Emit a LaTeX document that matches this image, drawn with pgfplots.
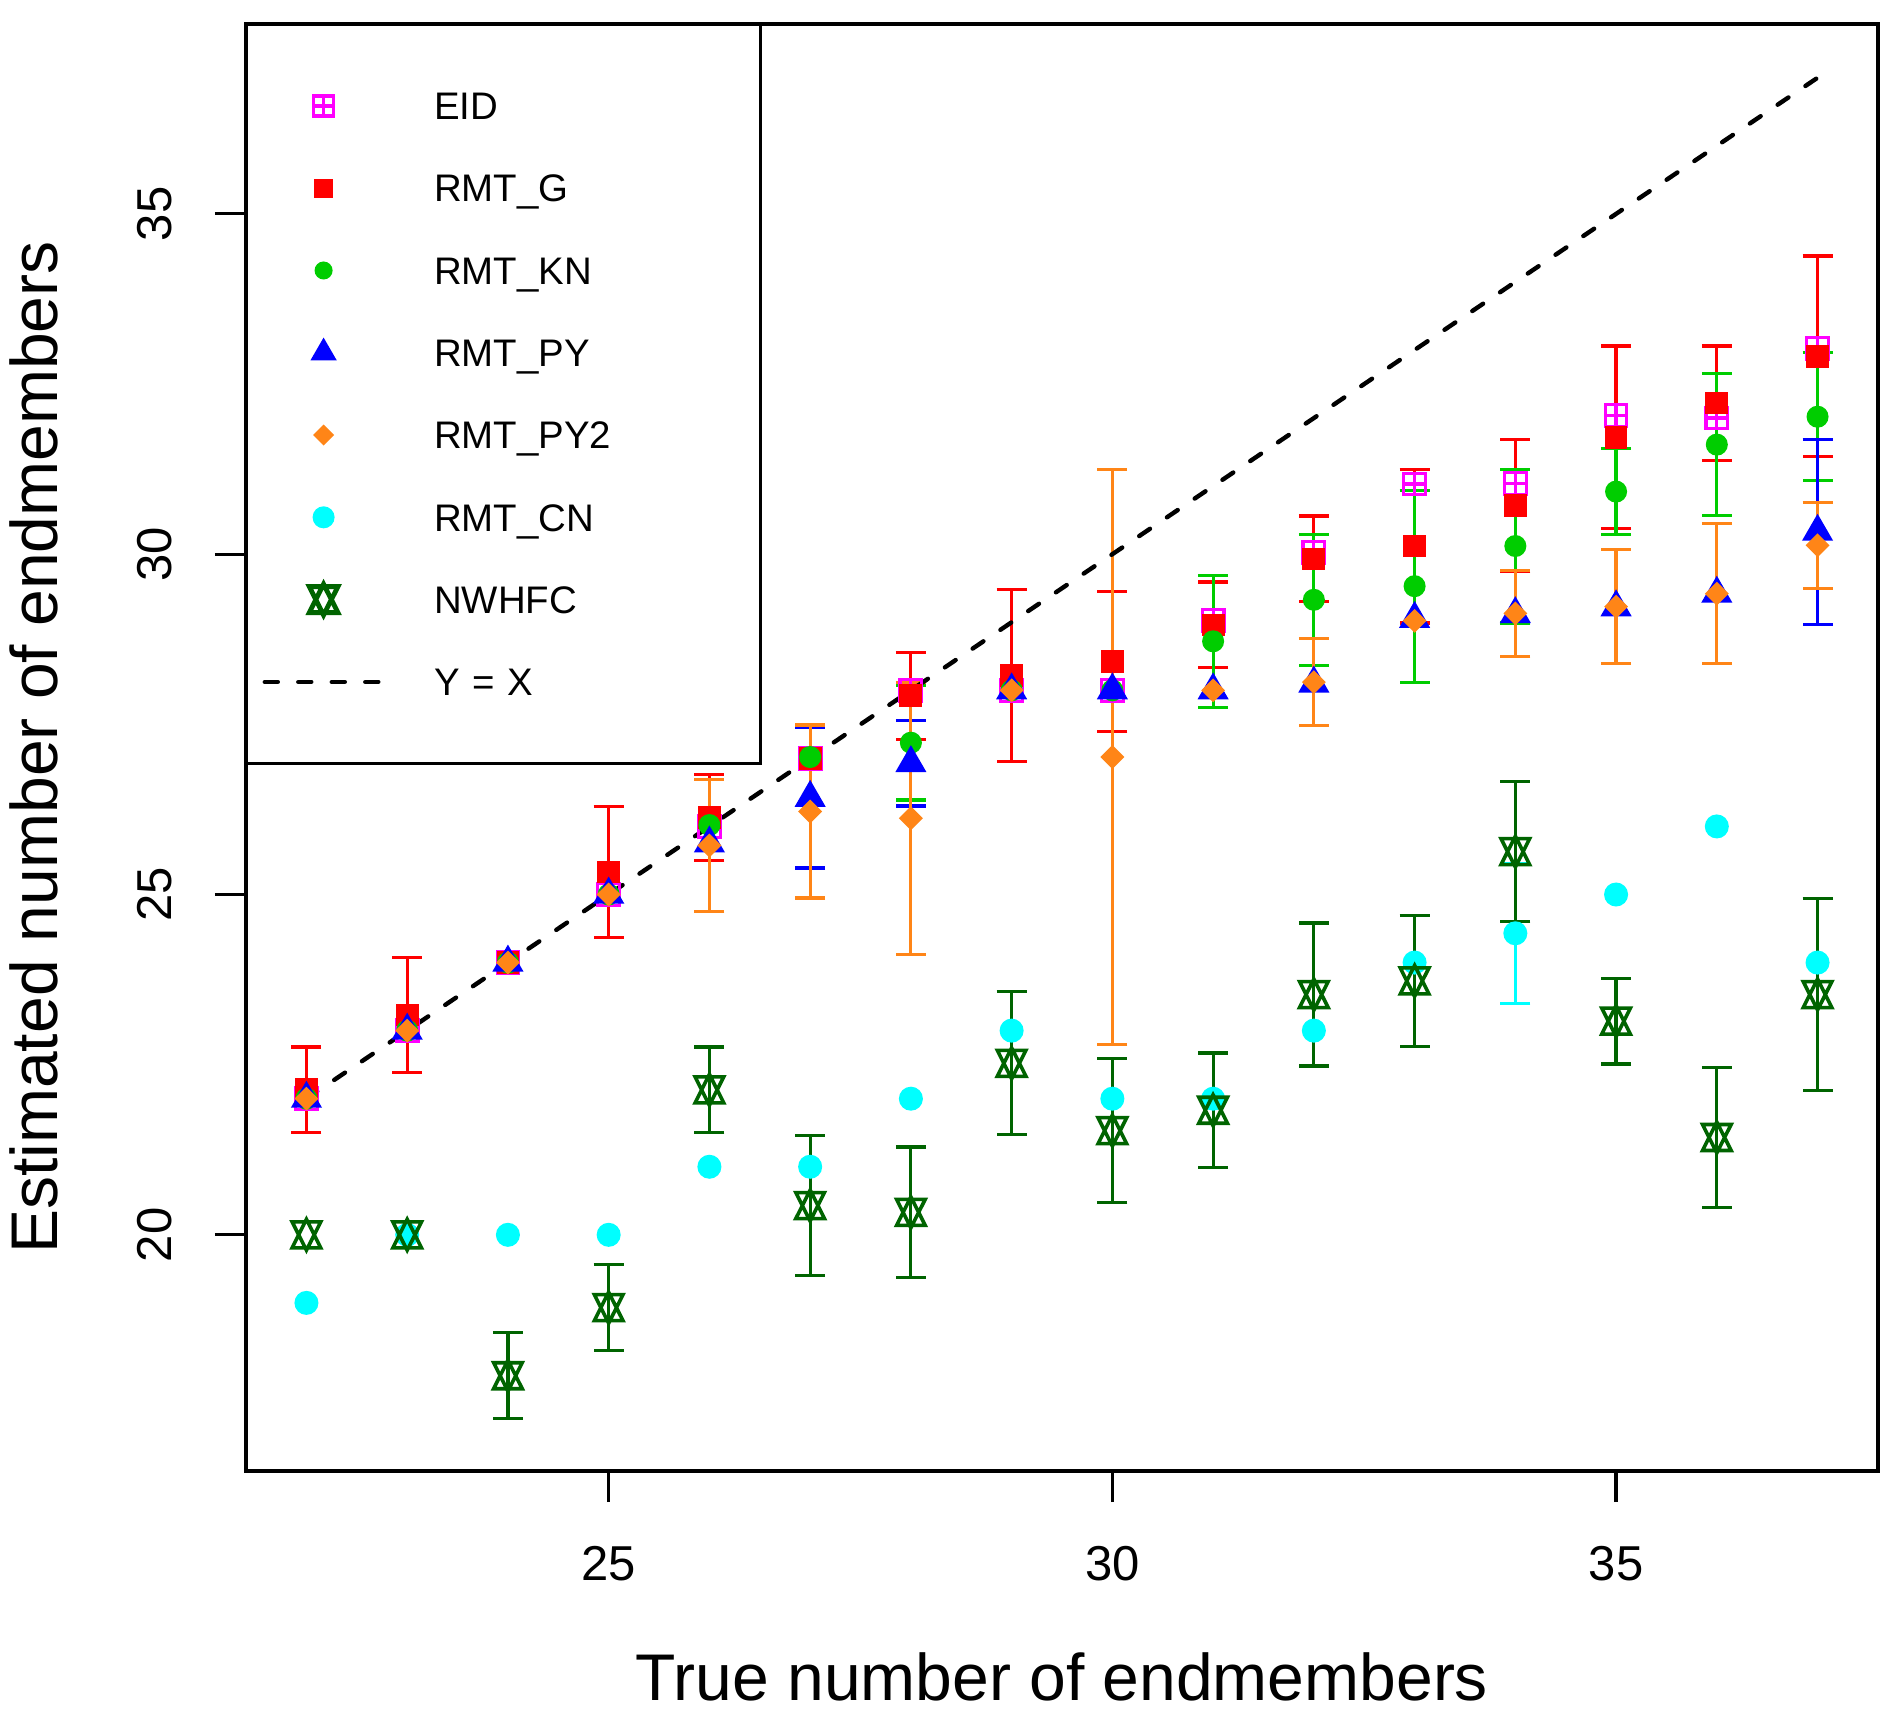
\documentclass[border=0pt]{standalone}
\usepackage{fontspec}
\setmainfont{Liberation Sans}
\usepackage{pgfplots}
\pgfplotsset{compat=1.18}
\usepackage{pgfplotstable}

\definecolor{rgreen}{HTML}{00CD00}
\definecolor{rorange}{HTML}{FF8517}
\definecolor{rdkgreen}{HTML}{006400}
\definecolor{rcyan}{HTML}{00FFFF}
\definecolor{rmagenta}{HTML}{FF00FF}
\definecolor{rred}{HTML}{FF0000}
\definecolor{rblue}{HTML}{0000FF}

\pgfdeclareplotmark{boxplus}{%
 \pgfpathrectangle{\pgfqpoint{-\pgfplotmarksize}{-\pgfplotmarksize}}{\pgfqpoint{2\pgfplotmarksize}{2\pgfplotmarksize}}%
 \pgfpathmoveto{\pgfqpoint{-\pgfplotmarksize}{0pt}}\pgfpathlineto{\pgfqpoint{\pgfplotmarksize}{0pt}}%
 \pgfpathmoveto{\pgfqpoint{0pt}{-\pgfplotmarksize}}\pgfpathlineto{\pgfqpoint{0pt}{\pgfplotmarksize}}%
 \pgfusepathqstroke}
\pgfdeclareplotmark{updown}{%
 \pgfpathmoveto{\pgfqpoint{0pt}{-1.55\pgfplotmarksize}}%
 \pgfpathlineto{\pgfqpoint{1.43\pgfplotmarksize}{1.3\pgfplotmarksize}}%
 \pgfpathlineto{\pgfqpoint{-1.43\pgfplotmarksize}{1.3\pgfplotmarksize}}%
 \pgfpathclose
 \pgfpathmoveto{\pgfqpoint{0pt}{1.55\pgfplotmarksize}}%
 \pgfpathlineto{\pgfqpoint{1.43\pgfplotmarksize}{-1.3\pgfplotmarksize}}%
 \pgfpathlineto{\pgfqpoint{-1.43\pgfplotmarksize}{-1.3\pgfplotmarksize}}%
 \pgfpathclose
 \pgfusepathqstroke}

\pgfplotstableread{
x y
22 22
23 23
24 24
25 25
26 26
27 27
28 28
29 28
30 28
31 29.03
32 30.03
33 31.03
34 31.04
35 32.04
36 32.0
37 33.02
}\eid

\pgfplotstableread{
x y
22 22.13
23 23.23
24 24.00
25 25.33
26 26.13
27 27.00
28 27.92
29 28.22
30 28.42
31 28.96
32 29.93
33 30.12
34 30.72
35 31.72
36 32.22
37 32.91
}\rmtg
\pgfplotstableread{
x y e
22 22.13 0.63
23 23.23 0.84
25 25.33 0.96
26 26.13 0.63
28 27.92 0.64
29 28.22 1.26
30 28.42 1.03
31 28.96 0.63
32 29.93 0.63
33 30.12 1.13
34 30.72 0.97
35 31.72 1.34
36 32.22 0.84
37 32.91 1.47
}\rmtgerr

\pgfplotstableread{
x y
22 22
23 23
24 24
25 25
26 26.02
27 27.02
28 27.23
29 28
30 28
31 28.72
32 29.33
33 29.53
34 30.12
35 30.92
36 31.61
37 32.02
}\rmtkn
\pgfplotstableread{
x y e
28 27.23 0.84
31 28.72 0.97
32 29.33 0.96
33 29.53 1.41
34 30.12 1.13
35 30.92 0.63
36 31.61 1.04
37 32.02 0.94
}\rmtknerr

\pgfplotstableread{
x y
22 22
23 23
24 24
25 25
26 25.75
27 26.42
28 26.93
29 28
30 28
31 28
32 28.10
33 29.05
34 29.12
35 29.22
36 29.42
37 30.33
}\rmtpy
\pgfplotstableread{
x y e
27 26.42 1.03
28 26.93 0.63
37 30.33 1.36
}\rmtpyerr

\pgfplotstableread{
x y
22 22
23 23
24 24
25 25
26 25.72
27 26.22
28 26.12
29 28
30 27.02
31 28
32 28.12
33 29.02
34 29.13
35 29.23
36 29.42
37 30.13
}\rmtpyb
\pgfplotstableread{
x y e
26 25.72 0.97
27 26.22 1.27
28 26.12 2.00
30 27.02 4.22
32 28.12 0.64
34 29.13 0.63
35 29.23 0.84
36 29.42 1.03
37 30.13 0.63
}\rmtpyberr

\pgfplotstableread{
x y
22 19
23 20
24 20
25 20
26 21
27 21
28 22
29 23
30 22
31 22
32 23
33 24
34 24.43
35 25
36 26
37 24
}\rmtcn
\pgfplotstableread{
x y e
34 24.43 1.03
}\rmtcnerr

\pgfplotstableread{
x y
22 20
23 20
24 17.93
25 18.93
26 22.13
27 20.43
28 20.33
29 22.52
30 21.53
31 21.83
32 23.53
33 23.73
34 25.63
35 23.14
36 21.43
37 23.53
}\nwhfc
\pgfplotstableread{
x y e
24 17.93 0.63
25 18.93 0.63
26 22.13 0.63
27 20.43 1.03
28 20.33 0.96
29 22.52 1.05
30 21.53 1.06
31 21.83 0.84
32 23.53 1.05
33 23.73 0.96
34 25.63 1.03
35 23.14 0.63
36 21.43 1.03
37 23.53 1.41
}\nwhfcerr

\pgfplotsset{
 errstyle/.style={forget plot, draw=none, mark=none,
  error bars/.cd, y dir=both, y explicit,
  error bar style={draw=#1, line width=0.8bp, solid},
  error mark options={rotate=90, draw=#1, line width=0.8bp, mark size=3.75bp}},
}

\begin{document}
\begin{tikzpicture}
\begin{axis}[
 scale only axis, width=408bp, height=361.75bp,
 xmin=21.4, xmax=37.6, ymin=16.53, ymax=37.79,
 axis line style={line width=0.8bp, black},
 xtick={25,30,35}, ytick={20,25,30,35},
 minor tick num=0,
 tick align=outside, tick pos=left,
 major tick length=7.75bp,
 every tick/.style={black, line width=0.8bp},
 /pgf/number format/assume math mode=true,
 tick label style={font=\fontsize{12.25bp}{14bp}\selectfont},
 xticklabel style={anchor=center, yshift=-15.5bp},
 yticklabel style={anchor=center, xshift=-15bp, rotate=90},
 xlabel={True number of endmembers},
 ylabel={Estimated number of endmembers},
 every axis x label/.style={at={(axis description cs:0.5,0)}, anchor=base, yshift=-57.25bp, font=\fontsize{16.5bp}{19bp}\selectfont},
 every axis y label/.style={at={(axis description cs:0,0.5)}, anchor=base, xshift=-47bp, rotate=90, font=\fontsize{16.5bp}{19bp}\selectfont},
 legend style={at={(axis description cs:0,1)}, anchor=north west, draw=black, line width=0.8bp, outer sep=0pt, inner xsep=3.75bp, inner ysep=10.2bp, column sep=12bp, row sep=0pt, font=\fontsize{9.6bp}{11bp}\selectfont, nodes={inner sep=0pt, text height=13.72bp, text depth=6.85bp, text width=77.75bp}},
 legend cell align=left,
]
% EID
\addplot[forget plot, only marks, mark=boxplus, mark size=2.7bp, mark options={draw=rmagenta, line width=0.8bp}] table[x=x,y=y] {\eid};
% RMT_G
\addplot[forget plot, only marks, mark=square*, mark size=2.6bp, mark options={draw=rred, fill=rred, line width=0.5bp}] table[x=x,y=y] {\rmtg};
\addplot[errstyle=rred] table[x=x,y=y,y error=e] {\rmtgerr};
% RMT_KN
\addplot[forget plot, only marks, mark=*, mark size=2.5bp, mark options={draw=rgreen, fill=rgreen, line width=0.5bp}] table[x=x,y=y] {\rmtkn};
\addplot[errstyle=rgreen] table[x=x,y=y,y error=e] {\rmtknerr};
% RMT_PY
\addplot[forget plot, only marks, mark=triangle*, mark size=4.0bp, mark options={draw=rblue, fill=rblue, line width=0.5bp}] table[x=x,y=y] {\rmtpy};
\addplot[errstyle=rblue] table[x=x,y=y,y error=e] {\rmtpyerr};
% RMT_PY2
\addplot[forget plot, only marks, mark=square*, mark size=1.86bp, mark options={draw=rorange, fill=rorange, line width=0.5bp, rotate=45}] table[x=x,y=y] {\rmtpyb};
\addplot[errstyle=rorange] table[x=x,y=y,y error=e] {\rmtpyberr};
% RMT_CN
\addplot[forget plot, only marks, mark=*, mark size=2.75bp, mark options={draw=rcyan, fill=rcyan, line width=0.5bp}] table[x=x,y=y] {\rmtcn};
\addplot[errstyle=rcyan] table[x=x,y=y,y error=e] {\rmtcnerr};
% NWHFC
\addplot[forget plot, only marks, mark=updown, mark size=2.5bp, mark options={draw=rdkgreen, line width=0.9bp}] table[x=x,y=y] {\nwhfc};
\addplot[errstyle=rdkgreen] table[x=x,y=y,y error=e] {\nwhfcerr};
% Y = X
\addplot[forget plot, black, line width=1.1bp, line cap=round, dash pattern=on 3.25bp off 5.125bp] coordinates {(22,22) (37,37)};

% legend
\addlegendimage{legend image code/.code={\path (-15.25bp,0bp) (15.25bp,0bp); \draw[line width=0.9bp, rmagenta, mark=boxplus, mark size=2.5bp, only marks] plot coordinates {(0bp,0bp)};}}
\addlegendentry{EID}
\addlegendimage{legend image code/.code={\path (-15.25bp,0bp) (15.25bp,0bp); \draw[line width=0.5bp, rred, fill=rred, mark=square*, mark size=2.15bp, only marks] plot coordinates {(0bp,0bp)};}}
\addlegendentry{RMT\_G}
\addlegendimage{legend image code/.code={\path (-15.25bp,0bp) (15.25bp,0bp); \draw[line width=0.5bp, rgreen, fill=rgreen, mark=*, mark size=2.0bp, only marks] plot coordinates {(0bp,0bp)};}}
\addlegendentry{RMT\_KN}
\addlegendimage{legend image code/.code={\path (-15.25bp,0bp) (15.25bp,0bp); \draw[line width=0.5bp, rblue, fill=rblue, mark=triangle*, mark size=3.3bp, only marks] plot coordinates {(0bp,0bp)};}}
\addlegendentry{RMT\_PY}
\addlegendimage{legend image code/.code={\path (-15.25bp,0bp) (15.25bp,0bp); \draw[line width=0.5bp, rorange, fill=rorange, mark=square*, mark size=1.6bp, mark options={rotate=45}, only marks] plot coordinates {(0bp,0bp)};}}
\addlegendentry{RMT\_PY2}
\addlegendimage{legend image code/.code={\path (-15.25bp,0bp) (15.25bp,0bp); \draw[line width=0.5bp, rcyan, fill=rcyan, mark=*, mark size=2.5bp, only marks] plot coordinates {(0bp,0bp)};}}
\addlegendentry{RMT\_CN}
\addlegendimage{legend image code/.code={\path (-15.25bp,0bp) (15.25bp,0bp); \draw[line width=1.2bp, rdkgreen, mark=updown, mark size=2.5bp, only marks] plot coordinates {(0bp,0bp)};}}
\addlegendentry{NWHFC}
\addlegendimage{legend image code/.code={\path (-15.25bp,0bp) (15.25bp,0bp); \draw[black, line width=1.1bp, line cap=round, dash pattern=on 3.25bp off 5.125bp] (-14.7bp,0bp) -- (13.7bp,0bp);}}
\addlegendentry{Y = X}
\end{axis}
\pgfresetboundingbox
\useasboundingbox (-61.5bp,-61.5bp) rectangle (411.25bp,367.75bp);
\end{tikzpicture}
\end{document}
